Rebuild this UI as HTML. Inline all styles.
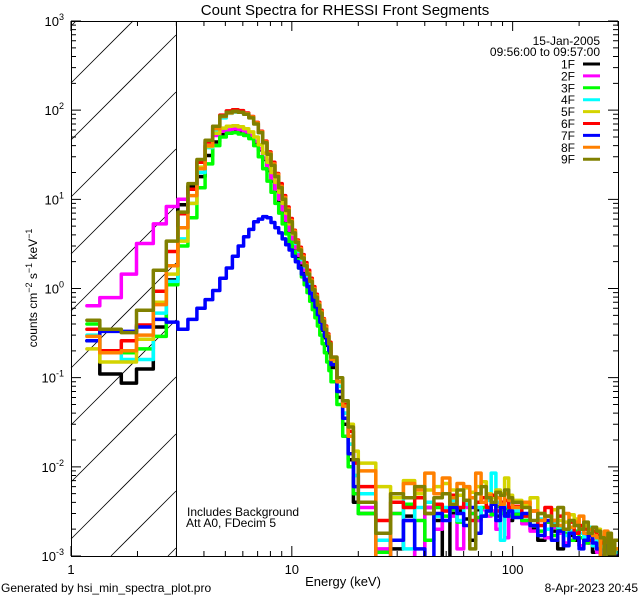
<!DOCTYPE html>
<html><head><meta charset="utf-8"><style>
html,body{margin:0;padding:0;background:#fff;overflow:hidden;width:640px;height:600px;}
svg{display:block;}
svg text{font-family:"Liberation Sans",sans-serif;fill:#000;}
</style></head><body>
<svg id="chart" width="640" height="600" viewBox="0 0 640 600" xmlns="http://www.w3.org/2000/svg">
<defs>
<clipPath id="plotclip"><rect x="71" y="21" width="547" height="535"/></clipPath>
</defs>
<rect width="640" height="600" fill="#fff"/>
<text x="345" y="15" font-size="15" text-anchor="middle">Count Spectra for RHESSI Front Segments</text>
<g id="hatch"></g>
<line x1="176.5" y1="21" x2="176.5" y2="556" stroke="#000" stroke-width="1"/>
<g id="series" clip-path="url(#plotclip)"></g>
<rect x="71.5" y="21.5" width="547" height="535" fill="none" stroke="#000" stroke-width="1"/>
<g id="ticks"></g>
<g id="labels"></g>
<text transform="translate(37,288) rotate(-90)" font-size="12" text-anchor="middle">counts cm<tspan dy="-5" font-size="9">−2</tspan><tspan dy="5"> s</tspan><tspan dy="-5" font-size="9">−1</tspan><tspan dy="5"> keV</tspan><tspan dy="-5" font-size="9">−1</tspan></text>
<text x="343" y="586" font-size="13" text-anchor="middle">Energy (keV)</text>
<text x="600" y="45" font-size="12" text-anchor="end">15-Jan-2005</text>
<text x="600" y="56" font-size="12" text-anchor="end">09:56:00 to 09:57:00</text>
<text x="187" y="516" font-size="12">Includes Background</text>
<text x="186" y="527" font-size="12">Att A0, FDecim 5</text>
<text x="1" y="592" font-size="12">Generated by hsi_min_spectra_plot.pro</text>
<text x="638" y="592" font-size="12" text-anchor="end">8-Apr-2023 20:45</text>
<g id="legend"></g>
</svg>
<script>
// ---- data ----
const edgesLow = [1.18,1.35,1.69,1.98,2.36,2.7,3.05];
const edgesTail = [16,17,18,19,20];
const segNames = ["1F","2F","3F","4F","5F","6F","7F","8F","9F"];
const segColors = ["#000000","#ff00ff","#00ff00","#00ffff","#d4d400","#ff0000","#0000ff","#ff8000","#808000"];

const s1F_low = [0.26,0.11,0.087,0.125,0.37,1.25];
const s1F_mid = [8.7,14,18,31,44,54,57,58,57,54,50,44,36,28,21,16,12.5,9.5,7.2,5.5,4.2,3.3,2.6,2.1,1.7,1.4,1.15,0.95,0.78,0.64,0.52,0.42,0.34,0.28,0.23,0.19];
const s1F_tail = [0.13,0.06,0.03,0.012,0.004];
const s1F_n1 = [0.003,0.0018,0.0012,0.0028,0.0009,0.0035,0.0025,0.0008,0.003,0.0032,0.0026,0.0015,0.0033,0.0028,0.0035,0.003,0.0028,0.0033,0.003,0.0025];
const s1F_n2 = [0.003,0.0025,0.002,0.0015,0.0024,0.0019,0.0012,0.002,0.0017,0.0015,0.0013,0.0018,0.0014,0.0011,0.0013,0.001,0.0012,0.0009,0.001,0.0008];

const s2F_low = [0.64,0.79,1.45,3.2,5.3,8.3];
const s2F_mid = [10,13,27,40,52,58,60,62,60,57,52,45,37,29,22,17,13,10,7.6,5.8,4.5,3.5,2.85,2.35,1.95,1.6,1.3,1.07,0.88,0.72,0.59,0.48,0.39,0.32,0.26,0.21];
const s2F_tail = [0.15,0.08,0.04,0.018,0.008];
const s2F_n1 = [0.0035,0.0012,0.003,0.0025,0.0009,0.0035,0.002,0.0032,0.0028,0.0012,0.0035,0.003,0.0025,0.0033,0.0028,0.0032,0.002,0.0035,0.0016,0.003];
const s2F_n2 = [0.0028,0.0023,0.0019,0.0025,0.0016,0.0021,0.0018,0.0014,0.0019,0.0016,0.0013,0.0017,0.0014,0.0015,0.0011,0.0016,0.0013,0.001,0.0012,0.0011];

const s3F_low = [0.4,0.19,0.19,0.21,0.29,1.1];
const s3F_mid = [3.0,6.2,13.5,25,40,50,55,56,54,52,48,40,30,22,16,12,9,7,5.3,4.1,3.3,2.6,2.1,1.7,1.35,1.1,0.9,0.72,0.58,0.47,0.38,0.3,0.24,0.19,0.15,0.12];
const s3F_tail = [0.09,0.05,0.022,0.01,0.005];
const s3F_n1 = [0.003,0.0011,0.003,0.0038,0.0025,0.0015,0.0035,0.0028,0.0033,0.0024,0.0038,0.003,0.0027,0.0035,0.0032,0.0029,0.0036,0.003,0.0034,0.0028];
const s3F_n2 = [0.0029,0.0025,0.0022,0.0019,0.0024,0.0017,0.002,0.0018,0.0015,0.0019,0.0016,0.0014,0.0017,0.0013,0.0015,0.0012,0.0014,0.0011,0.0012,0.0011];

const s4F_low = [0.3,0.2,0.16,0.16,0.53,1.2];
const s4F_mid = [3.6,9,20,38,60,82,92,95,95,90,83,71,56,43,32,24,18,13,9.8,7.3,5.4,4.1,3.2,2.6,2.1,1.75,1.4,1.15,0.93,0.76,0.62,0.5,0.41,0.33,0.27,0.22];
const s4F_tail = [0.15,0.08,0.04,0.018,0.008];
const s4F_n1 = [0.005,0.0015,0.0045,0.0012,0.0035,0.004,0.0028,0.0035,0.0042,0.0025,0.0038,0.0045,0.0035,0.0028,0.0042,0.0085,0.004,0.0015,0.0036,0.004];
const s4F_n2 = [0.0032,0.0028,0.0022,0.0026,0.002,0.0024,0.0021,0.0017,0.0019,0.0022,0.0018,0.0016,0.0021,0.0013,0.0016,0.0011,0.0014,0.0009,0.0012,0.0011];

const s5F_low = [0.21,0.15,0.15,0.27,0.7,1.45];
const s5F_mid = [3.4,9,23,39,55,63,66,67,65,62,57,50,41,33,26,20,15.5,12,9,7,5.3,4.1,3.3,2.7,2.2,1.8,1.5,1.22,1.0,0.82,0.67,0.55,0.45,0.37,0.3,0.25];
const s5F_tail = [0.15,0.09,0.05,0.03,0.015];
const s5F_n1 = [0.011,0.006,0.0045,0.007,0.005,0.0055,0.006,0.0065,0.0055,0.0048,0.0058,0.0052,0.006,0.0068,0.005,0.0045,0.0055,0.005,0.0075,0.0048];
const s5F_n2 = [0.0042,0.0038,0.0045,0.003,0.0028,0.0033,0.0025,0.0024,0.0029,0.0026,0.0021,0.0022,0.002,0.0017,0.002,0.0015,0.0016,0.0014,0.0013,0.0012];

const s6F_low = [0.35,0.2,0.26,0.39,0.93,2.6];
const s6F_mid = [6.9,13,26,44,66,88,98,101,99,93,85,73,58,45,34,26,19.5,15,11,8.2,6.1,4.5,3.5,2.9,2.4,1.95,1.6,1.3,1.05,0.86,0.7,0.57,0.46,0.38,0.31,0.25];
const s6F_tail = [0.17,0.09,0.05,0.025,0.011];
const s6F_n1 = [0.006,0.0025,0.004,0.0035,0.0045,0.003,0.0038,0.0032,0.0048,0.0035,0.0042,0.0025,0.004,0.0045,0.0035,0.0048,0.0032,0.004,0.0042,0.0035];
const s6F_n2 = [0.0036,0.0028,0.0032,0.0022,0.0035,0.0025,0.0028,0.002,0.0024,0.0018,0.0022,0.002,0.0015,0.0019,0.0017,0.0014,0.0016,0.0012,0.0013,0.001];

const s7F_low = [0.26,0.33,0.33,0.37,0.45,0.42];
const s7F_mid = [0.35,0.45,0.6,0.75,0.95,1.3,1.7,2.3,3.0,3.8,4.6,5.6,6.0,6.4,6.2,5.5,4.8,4.2,3.6,3.1,2.7,2.3,2.0,1.7,1.45,1.25,1.05,0.88,0.74,0.62,0.51,0.42,0.35,0.29,0.24,0.2];
const s7F_tail = [0.14,0.07,0.035,0.014,0.006];
const s7F_n1 = [0.004,0.0008,0.0015,0.0025,0.0012,0.0008,0.003,0.0025,0.0035,0.003,0.0022,0.0035,0.0018,0.0028,0.0032,0.0038,0.0025,0.0035,0.0028,0.0032];
const s7F_n2 = [0.0027,0.003,0.0022,0.0017,0.0025,0.0015,0.0019,0.0013,0.0018,0.0016,0.0012,0.0015,0.0017,0.0014,0.0012,0.001,0.0013,0.0011,0.0009,0.001];

const s8F_low = [0.29,0.19,0.2,0.3,0.66,1.8];
const s8F_mid = [4.8,11,22,40,62,85,93,96,95,91,84,72,57,44,33,25,19,14,10.5,7.8,5.8,4.4,3.4,2.8,2.3,1.85,1.5,1.25,1.0,0.83,0.68,0.55,0.45,0.37,0.3,0.24];
const s8F_tail = [0.16,0.09,0.048,0.022,0.012];
const s8F_n1 = [0.009,0.0006,0.005,0.0065,0.0055,0.0085,0.005,0.0075,0.0045,0.0065,0.006,0.0045,0.0085,0.004,0.0048,0.004,0.0045,0.0038,0.005,0.0042];
const s8F_n2 = [0.0035,0.004,0.0032,0.0025,0.0028,0.0025,0.0022,0.003,0.0021,0.0024,0.0028,0.0018,0.002,0.0017,0.0016,0.0007,0.0019,0.0016,0.0015,0.0012];

const s9F_low = [0.44,0.35,0.32,0.57,1.6,3.4];
const s9F_mid = [7.2,15,28,46,66,86,95,97,95,90,82,70,56,43,32,24,18,13.5,10,7.5,5.6,4.2,3.3,2.7,2.2,1.8,1.45,1.2,0.97,0.8,0.65,0.53,0.43,0.35,0.29,0.24];
const s9F_tail = [0.17,0.1,0.055,0.028,0.012];
const s9F_n1 = [0.004,0.0018,0.005,0.0045,0.006,0.003,0.0045,0.005,0.0038,0.0055,0.0042,0.0012,0.005,0.006,0.0045,0.004,0.0052,0.0048,0.0055,0.0045];
const s9F_n2 = [0.004,0.0035,0.0025,0.003,0.0028,0.0022,0.0035,0.002,0.0025,0.0022,0.002,0.0024,0.0018,0.0021,0.0019,0.0016,0.0009,0.0018,0.0008,0.0015];

const yTickExps = [3,2,1,0,-1,-2,-3];
const xTickLabels = ["1","10","100"];
const xTickValues = [1,10,100];

// ---- axes ----
const X0=71, X1=618, Y0=21, Y1=556, EMIN=1, EMAX=300, VMIN=1e-3, VMAX=1e3;
function xs(e){return X0+(Math.log10(e)-Math.log10(EMIN))/(Math.log10(EMAX)-Math.log10(EMIN))*(X1-X0);}
function ys(v){v=Math.max(v,1e-5);return Y0+(Math.log10(VMAX)-Math.log10(v))/(Math.log10(VMAX)-Math.log10(VMIN))*(Y1-Y0);}
const NS="http://www.w3.org/2000/svg";
function mk(tag,attrs,parent){const el=document.createElementNS(NS,tag);for(const k in attrs)el.setAttribute(k,attrs[k]);parent.appendChild(el);return el;}

const edges = edgesLow.slice();
for(let k=1;k<=36;k++) edges.push(+(3.05+k/3).toFixed(3));
edgesTail.forEach(e=>edges.push(e));
for(let e=24;e<=100;e+=4) edges.push(e);
for(let e=110;e<=300;e+=10) edges.push(e);

// hatch lines clipped analytically to x in [71,176], y in [21,556]; line: y = y0 - (x - X0)
const hatch=document.getElementById('hatch');
const HX1=176;
for(let k=-2;k<=10;k++){
  const y0=83+57*k;
  let xa=Math.max(X0, X0 + (y0 - Y1));
  let xb=Math.min(HX1, X0 + (y0 - Y0));
  if(xb<=xa) continue;
  const ln=mk('line',{x1:xa,y1:y0-(xa-X0),x2:xb,y2:y0-(xb-X0),stroke:'#000','stroke-width':0.8},hatch);
  
  
}

const allSeries=[
 [s1F_low,s1F_mid,s1F_tail,s1F_n1,s1F_n2],[s2F_low,s2F_mid,s2F_tail,s2F_n1,s2F_n2],
 [s3F_low,s3F_mid,s3F_tail,s3F_n1,s3F_n2],[s4F_low,s4F_mid,s4F_tail,s4F_n1,s4F_n2],
 [s5F_low,s5F_mid,s5F_tail,s5F_n1,s5F_n2],[s6F_low,s6F_mid,s6F_tail,s6F_n1,s6F_n2],
 [s7F_low,s7F_mid,s7F_tail,s7F_n1,s7F_n2],[s8F_low,s8F_mid,s8F_tail,s8F_n1,s8F_n2],
 [s9F_low,s9F_mid,s9F_tail,s9F_n1,s9F_n2]];
const sg=document.getElementById('series');
allSeries.forEach((parts,i)=>{
  const vals=[].concat(...parts);
  let d='';
  vals.forEach((v,j)=>{
    const xa=xs(edges[j]).toFixed(1), xb=xs(edges[j+1]).toFixed(1), y=Math.min(ys(v),Y1+3).toFixed(1);
    d+=(j===0?'M':'L')+xa+','+y+'L'+xb+','+y;
  });
  const p=mk('path',{d:d,fill:'none',stroke:segColors[i],'stroke-width':3.5,'stroke-linejoin':'round','stroke-linecap':'round'},sg);
  
  
});

const tg=document.getElementById('ticks');
let td='';
for(let e=-3;e<=3;e++){
  const y=ys(Math.pow(10,e));
  td+=`M${X0},${y}h10M${X1},${y}h-10`;
  if(e<3) for(let m=2;m<=9;m++){const ym=ys(m*Math.pow(10,e));td+=`M${X0},${ym}h5M${X1},${ym}h-5`;}
}
[1,10,100].forEach(b=>{
  const x=xs(b); td+=`M${x},${Y1}v-10M${x},${Y0}v10`;
  for(let m=2;m<=9;m++){const v=m*b;if(v>EMAX)break;const xm=xs(v);td+=`M${xm},${Y1}v-5M${xm},${Y0}v5`;}
});
mk('path',{d:td,stroke:'#000','stroke-width':1,fill:'none'},tg);

const lg=document.getElementById('labels');
yTickExps.forEach(e=>{
  const y=ys(Math.pow(10,e));
  const t=mk('text',{x:64,y:y+5,'font-size':13,'text-anchor':'end'},lg);
  
  
  t.innerHTML='10<tspan dy="-6" font-size="9">'+e+'</tspan>';
});
xTickValues.forEach((v,i)=>{
  const t=mk('text',{x:xs(v),y:574,'font-size':13,'text-anchor':'middle'},lg);
  
  
  t.textContent=xTickLabels[i];
});

const leg=document.getElementById('legend');
segNames.forEach((n,i)=>{
  const y=64+11.9*i;
  const t=mk('text',{x:575,y:y+4.5,'font-size':12,'text-anchor':'end'},leg);
  
  
  t.textContent=n;
  const l=mk('line',{x1:583,y1:y,x2:600,y2:y,stroke:segColors[i],'stroke-width':3},leg);
  
  
});
</script>
</body></html>
